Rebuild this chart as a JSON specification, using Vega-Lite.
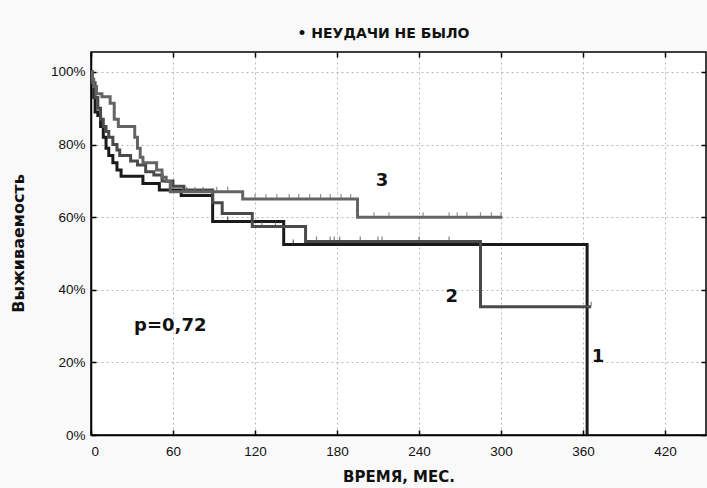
{
  "$schema": "https://vega.github.io/schema/vega-lite/v6.json",
  "width": 615,
  "height": 383,
  "autosize": {"type": "none"},
  "padding": {"left": 91, "top": 52, "right": 1, "bottom": 53},
  "background": "#f9f9f9",
  "config": {
    "view": {"fill": "white", "stroke": "black", "strokeWidth": 1.5},
    "font": "Liberation Sans",
    "axis": {"labelFont": "Liberation Sans", "labelFontSize": 13.5, "labelColor": "#111", "domainColor": "black", "domainWidth": 1.5, "tickColor": "black", "tickWidth": 1.5, "gridColor": "#b8b8b8", "gridDash": [2, 3], "gridWidth": 1, "titleFont": "DejaVu Sans", "titleFontWeight": "bold", "titleColor": "#111"}
  },
  "title": {"text": "•   НЕУДАЧИ НЕ БЫЛО", "font": "DejaVu Sans", "fontSize": 14, "fontWeight": "bold", "color": "#111", "anchor": "middle", "dx": -15, "offset": 10},
  "datasets": {
    "curves": [
      {"curve": "1", "t": 0, "s": 100},
      {"curve": "1", "t": 1, "s": 97},
      {"curve": "1", "t": 2, "s": 93},
      {"curve": "1", "t": 3, "s": 89},
      {"curve": "1", "t": 5, "s": 88},
      {"curve": "1", "t": 7, "s": 85},
      {"curve": "1", "t": 9, "s": 82},
      {"curve": "1", "t": 11, "s": 79},
      {"curve": "1", "t": 13, "s": 77},
      {"curve": "1", "t": 16, "s": 75},
      {"curve": "1", "t": 19, "s": 73},
      {"curve": "1", "t": 22, "s": 71.3},
      {"curve": "1", "t": 38, "s": 69.3},
      {"curve": "1", "t": 50, "s": 67.5},
      {"curve": "1", "t": 66, "s": 66},
      {"curve": "1", "t": 89, "s": 58.8},
      {"curve": "1", "t": 141, "s": 52.5},
      {"curve": "1", "t": 363, "s": 0},
      {"curve": "2", "t": 0, "s": 100},
      {"curve": "2", "t": 1, "s": 97},
      {"curve": "2", "t": 3, "s": 93},
      {"curve": "2", "t": 5, "s": 90},
      {"curve": "2", "t": 7, "s": 87},
      {"curve": "2", "t": 9, "s": 85},
      {"curve": "2", "t": 11, "s": 83.6},
      {"curve": "2", "t": 13, "s": 82},
      {"curve": "2", "t": 16, "s": 80},
      {"curve": "2", "t": 19, "s": 78.5},
      {"curve": "2", "t": 21, "s": 77},
      {"curve": "2", "t": 29, "s": 75.5},
      {"curve": "2", "t": 34, "s": 74.4},
      {"curve": "2", "t": 40, "s": 72.5},
      {"curve": "2", "t": 46, "s": 71.6},
      {"curve": "2", "t": 52, "s": 70},
      {"curve": "2", "t": 60, "s": 68.5},
      {"curve": "2", "t": 68, "s": 67.5},
      {"curve": "2", "t": 89, "s": 64},
      {"curve": "2", "t": 96, "s": 61},
      {"curve": "2", "t": 118, "s": 57.4},
      {"curve": "2", "t": 157, "s": 53.3},
      {"curve": "2", "t": 285, "s": 35.3},
      {"curve": "2", "t": 366, "s": 35.3},
      {"curve": "3", "t": 0, "s": 100},
      {"curve": "3", "t": 1, "s": 98},
      {"curve": "3", "t": 2, "s": 96},
      {"curve": "3", "t": 4, "s": 94},
      {"curve": "3", "t": 8, "s": 93.2},
      {"curve": "3", "t": 14, "s": 91.4},
      {"curve": "3", "t": 17, "s": 87},
      {"curve": "3", "t": 20, "s": 85},
      {"curve": "3", "t": 32, "s": 82},
      {"curve": "3", "t": 34, "s": 79},
      {"curve": "3", "t": 36, "s": 76.5},
      {"curve": "3", "t": 38, "s": 75},
      {"curve": "3", "t": 48, "s": 73},
      {"curve": "3", "t": 52, "s": 71},
      {"curve": "3", "t": 55, "s": 69.8},
      {"curve": "3", "t": 58, "s": 67},
      {"curve": "3", "t": 111, "s": 65},
      {"curve": "3", "t": 195, "s": 60},
      {"curve": "3", "t": 301, "s": 60}
    ],
    "censored": [
      {"curve": "3", "t": 70, "s": 67},
      {"curve": "3", "t": 76, "s": 67},
      {"curve": "3", "t": 82, "s": 67},
      {"curve": "3", "t": 92, "s": 67},
      {"curve": "3", "t": 100, "s": 67},
      {"curve": "3", "t": 120, "s": 65},
      {"curve": "3", "t": 128, "s": 65},
      {"curve": "3", "t": 136, "s": 65},
      {"curve": "3", "t": 145, "s": 65},
      {"curve": "3", "t": 152, "s": 65},
      {"curve": "3", "t": 160, "s": 65},
      {"curve": "3", "t": 168, "s": 65},
      {"curve": "3", "t": 175, "s": 65},
      {"curve": "3", "t": 183, "s": 65},
      {"curve": "3", "t": 190, "s": 65},
      {"curve": "3", "t": 207, "s": 60},
      {"curve": "3", "t": 218, "s": 60},
      {"curve": "3", "t": 243, "s": 60},
      {"curve": "3", "t": 262, "s": 60},
      {"curve": "3", "t": 268, "s": 60},
      {"curve": "3", "t": 275, "s": 60},
      {"curve": "3", "t": 285, "s": 60},
      {"curve": "3", "t": 293, "s": 60},
      {"curve": "3", "t": 300, "s": 60},
      {"curve": "1", "t": 100, "s": 58.8},
      {"curve": "1", "t": 148, "s": 52.5},
      {"curve": "2", "t": 125, "s": 57.4},
      {"curve": "2", "t": 135, "s": 57.4},
      {"curve": "2", "t": 165, "s": 53.3},
      {"curve": "2", "t": 175, "s": 53.3},
      {"curve": "2", "t": 178, "s": 53.3},
      {"curve": "2", "t": 182, "s": 53.3},
      {"curve": "2", "t": 197, "s": 53.3},
      {"curve": "2", "t": 210, "s": 53.3},
      {"curve": "2", "t": 213, "s": 53.3},
      {"curve": "2", "t": 240, "s": 53.3},
      {"curve": "2", "t": 262, "s": 53.3},
      {"curve": "2", "t": 366, "s": 35.3}
    ],
    "notes": [
      {"t": 213, "s": 70, "label": "3"},
      {"t": 264, "s": 38, "label": "2"},
      {"t": 371, "s": 21.5, "label": "1"},
      {"t": 58, "s": 30, "label": "p=0,72"}
    ]
  },
  "resolve": {"axis": {"x": "independent", "y": "independent"}},
  "layer": [
    {
      "data": {"name": "curves"},
      "mark": {"type": "line", "interpolate": "step-after", "strokeWidth": 3, "clip": true},
      "encoding": {
        "x": {"field": "t", "type": "quantitative", "scale": {"domain": [0, 450], "nice": false, "zero": false},
          "axis": {"values": [0, 60, 120, 180, 240, 300, 360, 420], "title": "ВРЕМЯ, МЕС.", "titleFontSize": 15, "titlePadding": 12, "tickSize": -5, "labelPadding": 14, "grid": true}},
        "y": {"field": "s", "type": "quantitative", "scale": {"domain": [0, 105.5], "nice": false, "zero": false},
          "axis": {"values": [0, 20, 40, 60, 80, 100], "labelExpr": "datum.value + '%'", "title": "Выживаемость", "titleFontSize": 16, "titleX": -73, "titleY": 191, "titleBaseline": "middle", "titleAngle": -90, "tickSize": -5, "labelPadding": 11, "grid": true}},
        "color": {"field": "curve", "type": "nominal", "scale": {"domain": ["1", "2", "3"], "range": ["#1a1a1a", "#4a4a4a", "#646464"]}, "legend": null},
        "detail": {"field": "curve"}
      }
    },
    {
      "data": {"name": "censored"},
      "mark": {"type": "tick", "orient": "vertical", "size": 4, "thickness": 1.2, "yOffset": -3},
      "encoding": {
        "x": {"field": "t", "type": "quantitative", "axis": {"orient": "top", "values": [0, 60, 120, 180, 240, 300, 360, 420], "labels": false, "domain": false, "grid": false, "tickSize": -5, "title": null}},
        "y": {"field": "s", "type": "quantitative", "axis": {"orient": "right", "values": [0, 20, 40, 60, 80, 100], "labels": false, "domain": false, "grid": false, "tickSize": -5, "title": null}},
        "color": {"field": "curve", "type": "nominal", "legend": null}
      }
    },
    {
      "data": {"name": "notes"},
      "mark": {"type": "text", "font": "DejaVu Sans", "fontWeight": "bold", "fontSize": 18, "color": "#111", "align": "center", "baseline": "middle"},
      "encoding": {
        "x": {"field": "t", "type": "quantitative", "axis": null},
        "y": {"field": "s", "type": "quantitative", "axis": null},
        "text": {"field": "label"}
      }
    }
  ]
}
